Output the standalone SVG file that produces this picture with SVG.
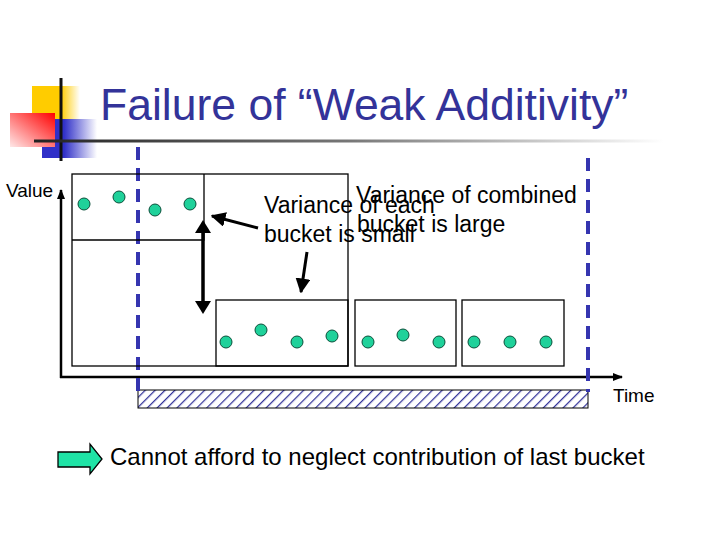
<svg xmlns="http://www.w3.org/2000/svg" width="720" height="540" viewBox="0 0 720 540">
<style>
.box{fill:none;stroke:#000;stroke-width:1.3}
.dot{fill:#1FD19A;stroke:#0B4F3A;stroke-width:1}
.lbl{font-family:"Liberation Sans",Arial,sans-serif;fill:#000}
.dash{stroke:#3535B0;stroke-width:4;stroke-dasharray:13 8;fill:none}
.ax{stroke:#000;stroke-width:2.5;fill:none}
</style>
<defs>
<linearGradient id="ylw" x1="0" y1="0" x2="1" y2="0"><stop offset="0.6" stop-color="#FFCC00"/><stop offset="1" stop-color="#FFCC00" stop-opacity="0"/></linearGradient>
<linearGradient id="blu" x1="0" y1="0" x2="1" y2="0"><stop offset="0.4" stop-color="#3030C8"/><stop offset="1" stop-color="#3030C8" stop-opacity="0"/></linearGradient>
<linearGradient id="red" x1="1" y1="0" x2="0" y2="1"><stop offset="0" stop-color="#FF0000"/><stop offset="1" stop-color="#FFE8E8"/></linearGradient>
<linearGradient id="uline" x1="0" y1="0" x2="1" y2="0"><stop offset="0" stop-color="#222"/><stop offset="0.5" stop-color="#777"/><stop offset="1" stop-color="#fff"/></linearGradient>
<pattern id="hatch" width="7" height="7" patternUnits="userSpaceOnUse" patternTransform="rotate(45)">
<rect width="7" height="7" fill="#fff"/>
<line x1="0" y1="0" x2="0" y2="7" stroke="#333399" stroke-width="2.5"/>
</pattern>
<marker id="ah" viewBox="0 0 10 10" refX="9" refY="5" markerWidth="5" markerHeight="5" orient="auto"><path d="M0,0 L10,5 L0,10 z" fill="#000"/></marker>
<marker id="ahs" viewBox="0 0 10 10" refX="9" refY="5" markerWidth="4" markerHeight="4" orient="auto"><path d="M0,1 L10,5 L0,9 z" fill="#000"/></marker>
</defs>
<rect width="720" height="540" fill="#fff"/>

<g id="logo">
<rect x="32" y="86" width="48" height="33" fill="url(#ylw)"/>
<rect x="42" y="119" width="55" height="39" fill="url(#blu)"/>
<rect x="10" y="113" width="45" height="34" fill="url(#red)"/>
<line x1="61" y1="78" x2="61" y2="161" stroke="#111" stroke-width="3"/>
<rect x="34" y="139.5" width="630" height="3" fill="url(#uline)"/>
</g>

<g id="title">
<text x="100" y="120" font-family="Liberation Sans, Arial, sans-serif" font-size="44.5" fill="#333399">Failure of “Weak Additivity”</text>
</g>

<g id="axes">
<line class="ax" x1="61" y1="378" x2="61" y2="190" marker-end="url(#ahs)"/>
<line class="ax" x1="60" y1="377" x2="622" y2="377" marker-end="url(#ahs)"/>
<text class="lbl" x="6" y="197" font-size="19">Value</text>
<text class="lbl" x="613" y="402" font-size="19">Time</text>
</g>

<g id="window">
<rect x="138" y="390" width="450" height="18" fill="url(#hatch)" stroke="#000" stroke-width="1"/>
<line class="dash" x1="138" y1="147" x2="138" y2="392"/>
<line class="dash" x1="588" y1="158" x2="588" y2="392"/>
</g>

<g id="big-bucket">
<rect class="box" x="72" y="174" width="276" height="192"/>
<polyline class="box" points="204,174 204,240 72,240"/>
<circle class="dot" cx="84" cy="204" r="6"/>
<circle class="dot" cx="119" cy="197" r="6"/>
<circle class="dot" cx="155" cy="210" r="6"/>
<circle class="dot" cx="190" cy="204" r="6"/>
</g>

<g id="bucket1">
<rect class="box" x="216" y="300" width="132" height="66"/>
<circle class="dot" cx="226" cy="342" r="6"/>
<circle class="dot" cx="261" cy="330" r="6"/>
<circle class="dot" cx="297" cy="342" r="6"/>
<circle class="dot" cx="332" cy="336" r="6"/>
</g>

<g id="bucket2">
<rect class="box" x="355" y="300" width="101" height="66"/>
<circle class="dot" cx="368" cy="342" r="6"/>
<circle class="dot" cx="403" cy="335" r="6"/>
<circle class="dot" cx="439" cy="342" r="6"/>
</g>

<g id="bucket3">
<rect class="box" x="462" y="300" width="102" height="66"/>
<circle class="dot" cx="474" cy="342" r="6"/>
<circle class="dot" cx="510" cy="342" r="6"/>
<circle class="dot" cx="546" cy="342" r="6"/>
</g>

<g id="labels">
<text class="lbl" x="264" y="213" font-size="23">Variance of each</text>
<text class="lbl" x="264" y="242" font-size="23">bucket is small</text>
<text class="lbl" x="356" y="203" font-size="23">Variance of combined</text>
<text class="lbl" x="357" y="232" font-size="23">bucket is large</text>
</g>

<g id="connectors">
<line x1="203" y1="226" x2="203" y2="308" stroke="#000" stroke-width="3.5"/>
<path d="M203,220 L211,233 L195,233 z" fill="#000"/>
<path d="M203,314 L211,301 L195,301 z" fill="#000"/>
<line x1="258" y1="228" x2="212" y2="216" stroke="#000" stroke-width="3" marker-end="url(#ah)"/>
<line x1="307" y1="252" x2="301" y2="292" stroke="#000" stroke-width="3" marker-end="url(#ah)"/>
</g>

<g id="conclusion">
<path d="M58,452 L90,452 L90,444 L102,459 L90,474 L90,467 L58,467 z" fill="#1FE3A6" stroke="#000" stroke-width="1.3"/>
<text class="lbl" x="110" y="465" font-size="24">Cannot afford to neglect contribution of last bucket</text>
</g>
</svg>
